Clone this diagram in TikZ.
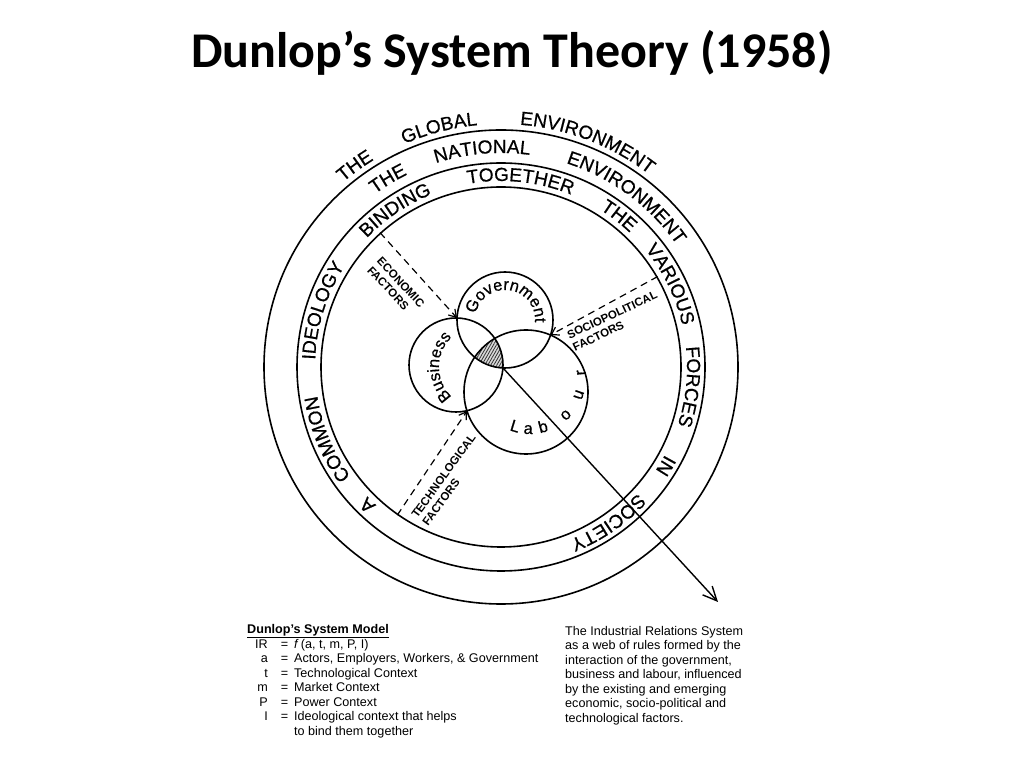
\documentclass[tikz,border=0pt]{standalone}
\usepackage{fontspec}
\setmainfont{Liberation Sans}
\newfontfamily\titlefont{Carlito}
\newfontfamily\handfont[FakeBold=0.6]{Liberation Sans}
\usepackage{tikz}
\usetikzlibrary{arrows.meta,decorations.text,patterns.meta}

\newcommand{\ringfont}{\handfont\fontsize{19}{19}\selectfont}
\newcommand{\vennfont}{\handfont\fontsize{16.5}{16.5}\selectfont}

% one word on an arc: centre, baseline radius, mid angle, half span (negative = ccw), text
\newcommand{\arcword}[5]{%
  \path[decorate, decoration={text along path, text align=center, text={#5}}]
    (#1) ++({#3+(#4)}:#2) arc[start angle={#3+(#4)}, end angle={#3-(#4)}, radius=#2];}

\begin{document}
\begin{tikzpicture}[x=1pt, y=1pt,
  ring/.style={draw, circle, line width=1.6pt, inner sep=0pt},
  actor/.style={draw, circle, line width=1.6pt, inner sep=0pt},
  factor/.style={font=\fontsize{11.5}{13.5}\selectfont\bfseries, align=left, inner sep=0pt},
  influence/.style={line width=1.2pt, dash pattern=on 7pt off 5pt,
                    -{Straight Barb[length=7pt,width=9pt]}},
  irs/.style={line width=1.4pt, -{Straight Barb[length=14pt,width=13pt]}},
  note/.style={font=\fontsize{12.6}{14.5}\selectfont, align=left, anchor=north west, inner sep=0pt}
]
\useasboundingbox (0,0) rectangle (1024,768);

%% Title
\node[font=\titlefont\bfseries\fontsize{50}{60}\selectfont] (title) at (512,715)
  {Dunlop’s System Theory (1958)};

%% Environment rings
\coordinate (C) at (501,401);
\node[ring, minimum size=474pt] (outer)  at (C) {};
\node[ring, minimum size=408pt] (middle) at (C) {};
\node[ring, minimum size=360pt] (inner)  at (C) {};

%% Actors
\coordinate (govC) at (505,448);
\coordinate (busC) at (456,403);
\coordinate (labC) at (526,376);

% shared core
\begin{scope}
  \clip (govC) circle[radius=48];
  \clip (busC) circle[radius=47];
  \fill[black!15] (labC) circle[radius=62];
  \fill[pattern={Lines[angle=60,distance=2.6pt,line width=0.8pt]}, pattern color=black!80]
    (labC) circle[radius=62];
\end{scope}

\node[actor, minimum size=96pt]  (gov) at (govC) {};
\node[actor, minimum size=94pt]  (bus) at (busC) {};
\node[actor, minimum size=124pt] (lab) at (labC) {};

%% The industrial relations system
\coordinate (core)   at (503,400);
\coordinate (irsEnd) at (718,166);
\draw[irs] (core) -- (irsEnd);

%% Influences
\coordinate (econTip)  at (457,450);
\coordinate (socioTip) at (550.5,433);
\coordinate (techTip)  at (467,357);
\draw[influence] (inner.132) -- (econTip);
\draw[influence] (inner.30)  -- (socioTip);
\draw[influence] (inner.235) -- (techTip);

\node[factor, rotate=-47] (econ)  at (396,481) {ECONOMIC\\FACTORS};
\node[factor, rotate=25]  (socio) at (615,447) {SOCIOPOLITICAL\\FACTORS};
\node[factor, rotate=54]  (tech)  at (449,288) {TECHNOLOGICAL\\FACTORS};

%% Ring texts
\arcword{C}{243}{126}{30}{|\ringfont|THE}
\arcword{C}{243}{104.5}{30}{|\ringfont|GLOBAL}
\arcword{C}{243}{69}{30}{|\ringfont|ENVIRONMENT}

\arcword{C}{214}{121}{30}{|\ringfont|THE}
\arcword{C}{214}{95}{30}{|\ringfont|NATIONAL}
\arcword{C}{214}{53.5}{30}{|\ringfont|ENVIRONMENT}

\arcword{C}{186}{226}{30}{|\ringfont|A}
\arcword{C}{186}{202.5}{30}{|\ringfont|COMMON}
\arcword{C}{186}{162.5}{30}{|\ringfont|IDEOLOGY}
\arcword{C}{186}{124}{30}{|\ringfont|BINDING}
\arcword{C}{186}{84}{30}{|\ringfont|TOGETHER}
\arcword{C}{186}{52}{30}{|\ringfont|THE}
\arcword{C}{186}{26}{30}{|\ringfont|VARIOUS}
\arcword{C}{186}{-6}{30}{|\ringfont|FORCES}
\arcword{C}{186}{-31}{30}{|\ringfont|IN}
\arcword{C}{186}{-55.5}{30}{|\ringfont|SOCIETY}

%% Actor names
\arcword{govC}{30}{82}{100}{|\vennfont|Government}
\coordinate (busT) at (480,401);
\arcword{busT}{41}{180}{50}{|\vennfont|Business}
\coordinate (labT) at (530,390);
\arcword{labT}{56}{253}{-20}{|\vennfont|L}
\arcword{labT}{56}{268}{-20}{|\vennfont|a}
\arcword{labT}{56}{285}{-20}{|\vennfont|b}
\arcword{labT}{56}{314}{-20}{|\vennfont|o}
\arcword{labT}{56}{341}{-20}{|\vennfont|u}
\arcword{labT}{56}{366}{-20}{|\vennfont|r}

%% Notes
\node[note] (model) at (247,145) {%
  \begin{tabular}{@{\hspace{8pt}}r@{\hspace{13pt}}c@{\hspace{6pt}}l@{}}
    \multicolumn{3}{@{}l}{\textbf{\underline{Dunlop's System Model}}}\\
    IR & = & \textit{f}\,(a, t, m, P, I)\\
    a  & = & Actors, Employers, Workers, \& Government\\
    t  & = & Technological Context\\
    m  & = & Market Context\\
    P  & = & Power Context\\
    I  & = & Ideological context that helps\\
       &   & to bind them together
  \end{tabular}};

\node[note] (irsnote) at (565,142) {The Industrial Relations System\\
  as a web of rules formed by the\\
  interaction of the government,\\
  business and labour, influenced\\
  by the existing and emerging\\
  economic, socio-political and\\
  technological factors.};

\end{tikzpicture}
\end{document}
